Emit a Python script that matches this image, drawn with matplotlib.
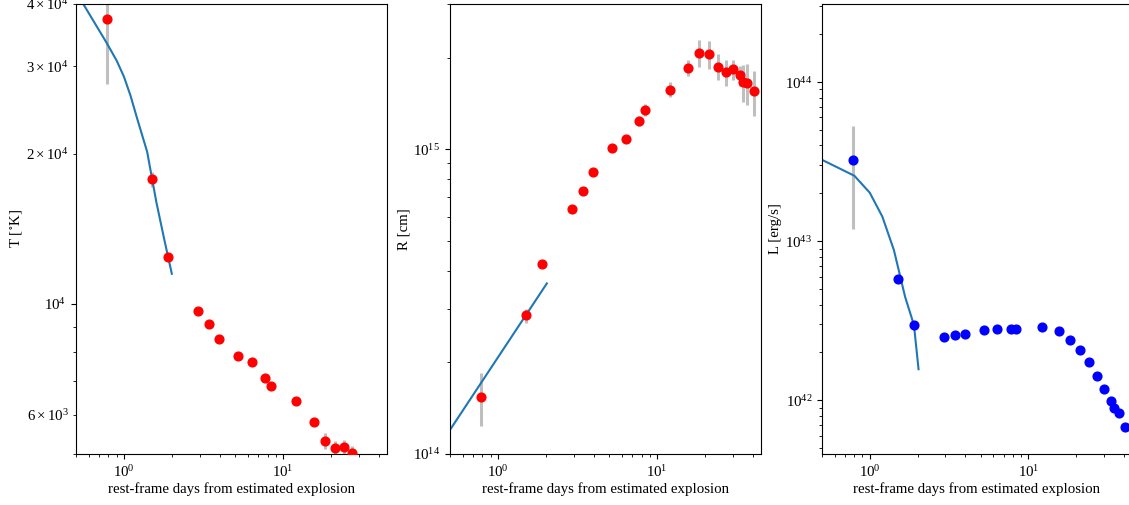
import matplotlib
matplotlib.use("Agg")
import matplotlib.pyplot as plt

plt.rcParams['font.family'] = 'serif'
plt.rcParams['font.serif'] = ['Liberation Serif', 'DejaVu Serif']
plt.rcParams['mathtext.fontset'] = 'stix'
plt.rcParams['font.size'] = 10.7

# observed epochs (rest-frame days)
t_obs = [0.78, 1.50, 1.90, 2.92, 3.45, 3.96, 5.22, 6.38, 7.75, 8.36, 12.1,
         15.6, 18.3, 21.2, 24.1, 27.0, 29.9, 33.0, 34.9, 37.0, 40.9]

# blackbody temperature
T = [3.73e4, 1.78e4, 1.24e4, 9.68e3, 9.10e3, 8.52e3, 7.85e3, 7.64e3, 7.12e3,
     6.86e3, 6.38e3, 5.81e3, 5.31e3, 5.14e3, 5.16e3, 5.02e3]
T_err = [9.6e3, 6e2, 1e2, 1e2, 1e2, 1e2, 1e2, 1e2, 1.2e2, 1.2e2, 1e2, 1e2,
         2e2, 1.8e2, 1.8e2, 1.6e2]

# blackbody radius
R = [1.54e14, 2.85e14, 4.22e14, 6.35e14, 7.28e14, 8.40e14, 1.01e15, 1.08e15,
     1.24e15, 1.35e15, 1.57e15, 1.85e15, 2.07e15, 2.05e15, 1.87e15, 1.79e15,
     1.83e15, 1.75e15, 1.66e15, 1.65e15, 1.55e15]
R_err = [0.30e14, 0.15e14, 0.1e14, 0.1e14, 0.1e14, 0.15e14, 0.2e14, 0.3e14,
         0.5e14, 0.6e14, 0.9e14, 1.1e14, 2.1e14, 2.2e14, 1.85e14, 1.75e14,
         1.4e14, 1.3e14, 2.3e14, 2.5e14, 2.6e14]

# bolometric luminosity
L = [3.24e43, 5.78e42, 2.97e42, 2.49e42, 2.58e42, 2.63e42, 2.75e42, 2.81e42,
     2.80e42, 2.80e42, 2.88e42, 2.73e42, 2.39e42, 2.07e42, 1.73e42, 1.42e42,
     1.18e42, 9.9e41, 9.0e41, 8.3e41, 6.8e41]
L_err = [2.05e43, 1e41, 5e40, 4e40, 4e40, 4e40, 4e40, 4e40, 4e40, 4e40, 4e40,
         4e40, 4e40, 3e40, 3e40, 2e40, 2e40, 2e40, 2e40, 2e40, 2e40]

# early-time cooling model
tm_T = [0.5, 0.78, 0.9, 1.0, 1.1, 1.2, 1.4, 1.6, 1.8, 2.0]
T_mod = [4.23e4, 3.34e4, 3.08e4, 2.86e4, 2.62e4, 2.38e4, 2.02e4, 1.60e4,
         1.34e4, 1.15e4]
tm_R = [0.5, 2.03]
R_mod = [1.2e14, 3.63e14]
tm_L = [0.5, 0.8, 1.0, 1.2, 1.42, 1.67, 1.9, 2.03]
L_mod = [3.25e43, 2.58e43, 2.02e43, 1.43e43, 8.8e42, 4.48e42, 2.97e42, 1.57e42]

W, H = 1129.0, 505.0
fig = plt.figure(figsize=(W / 100, H / 100), dpi=100)


def box(left, width):
    return [left / W, (H - 454) / H, width / W, 450 / H]


panels = [
    (box(76, 311), T, T_err, tm_T, T_mod, 'r', 'T [$^{\\circ}$K]', (5e3, 4e4)),
    (box(450, 311), R, R_err, tm_R, R_mod, 'r', 'R [cm]', (1e14, 3e15)),
    (box(822, 310), L, L_err, tm_L, L_mod, 'b', 'L [erg/s]', (4.6e41, 3.1e44)),
]

for rect, y, yerr, tm, ym, col, lab, ylim in panels:
    ax = fig.add_axes(rect)
    ax.set_xscale('log')
    ax.set_yscale('log')
    n = len(y)
    ax.errorbar(t_obs[:n], y, yerr=yerr, fmt='none', ecolor='0.75',
                elinewidth=2.2, capsize=0, zorder=1)
    ax.plot(tm, ym, color='#1f77b4', lw=1.5, zorder=2)
    ax.plot(t_obs[:n], y, 'o', color=col, ms=6.3, zorder=3)
    ax.set_xlim(0.5, 45)
    ax.set_ylim(*ylim)
    ax.set_ylabel(lab, labelpad=2)
    ax.set_xlabel('rest-frame days from estimated explosion', labelpad=2)

fig.savefig('out.png', dpi=100)
